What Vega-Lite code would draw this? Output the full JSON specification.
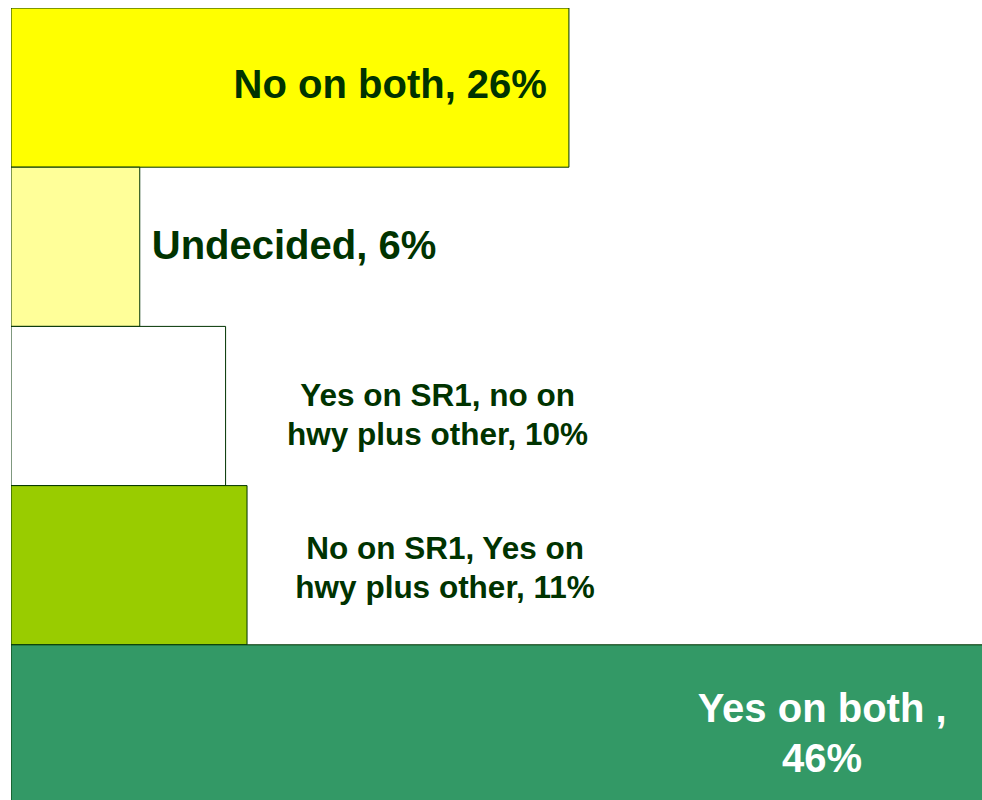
{
  "$schema": "https://vega.github.io/schema/vega-lite/v6.json",
  "autosize": "none",
  "width": 971,
  "height": 792,
  "padding": {"left": 11, "top": 8, "right": 0, "bottom": 0},
  "background": "white",
  "config": {"view": {"stroke": null}},
  "data": {"values": [
    {"category": "No on both", "pct": 26, "label": "No on both, 26%", "color": "#FFFF00"},
    {"category": "Undecided", "pct": 6, "label": "Undecided, 6%", "color": "#FFFF99"},
    {"category": "Yes on SR1, no on hwy plus other", "pct": 10, "label": "Yes on SR1, no on\nhwy plus other, 10%", "color": "#FFFFFF"},
    {"category": "No on SR1, Yes on hwy plus other", "pct": 11, "label": "No on SR1, Yes on\nhwy plus other, 11%", "color": "#99CC00"},
    {"category": "Yes on both", "pct": 46, "label": "Yes on both ,\n46%", "color": "#339966"}
  ]},
  "encoding": {
    "y": {"field": "category", "type": "nominal", "sort": null, "axis": null,
          "scale": {"range": [0, 796], "paddingInner": 0, "paddingOuter": 0}},
    "x": {"field": "pct", "type": "quantitative", "axis": null,
          "scale": {"domain": [0, 45.25], "nice": false, "zero": true}}
  },
  "layer": [
    {
      "mark": {"type": "bar", "clip": true, "stroke": "#003300", "strokeWidth": 1},
      "encoding": {"color": {"field": "color", "type": "nominal", "scale": null, "legend": null}}
    },
    {
      "transform": [{"filter": "datum.pct == 26"}],
      "mark": {"type": "text", "align": "right", "baseline": "middle", "dx": -22, "dy": -2,
               "font": "Liberation Sans", "fontWeight": "bold", "fontSize": 40, "color": "#003300"},
      "encoding": {"text": {"field": "label"}}
    },
    {
      "transform": [{"filter": "datum.pct == 6"}],
      "mark": {"type": "text", "align": "left", "baseline": "middle", "dx": 12, "dy": 0,
               "font": "Liberation Sans", "fontWeight": "bold", "fontSize": 40, "color": "#003300"},
      "encoding": {"text": {"field": "label"}}
    },
    {
      "transform": [{"filter": "datum.pct == 10"}],
      "mark": {"type": "text", "align": "center", "baseline": "middle", "dx": 212, "dy": -9,
               "lineBreak": "\n", "lineHeight": 39,
               "font": "Liberation Sans", "fontWeight": "bold", "fontSize": 31.5, "color": "#003300"},
      "encoding": {"text": {"field": "label"}}
    },
    {
      "transform": [{"filter": "datum.pct == 11"}],
      "mark": {"type": "text", "align": "center", "baseline": "middle", "dx": 198, "dy": -15,
               "lineBreak": "\n", "lineHeight": 39,
               "font": "Liberation Sans", "fontWeight": "bold", "fontSize": 31.5, "color": "#003300"},
      "encoding": {"text": {"field": "label"}}
    },
    {
      "transform": [{"filter": "datum.pct == 46"}],
      "mark": {"type": "text", "align": "center", "baseline": "middle", "dx": -176, "dy": -14,
               "lineBreak": "\n", "lineHeight": 50,
               "font": "Liberation Sans", "fontWeight": "bold", "fontSize": 40, "color": "#FFFFFF"},
      "encoding": {"text": {"field": "label"}}
    }
  ]
}
